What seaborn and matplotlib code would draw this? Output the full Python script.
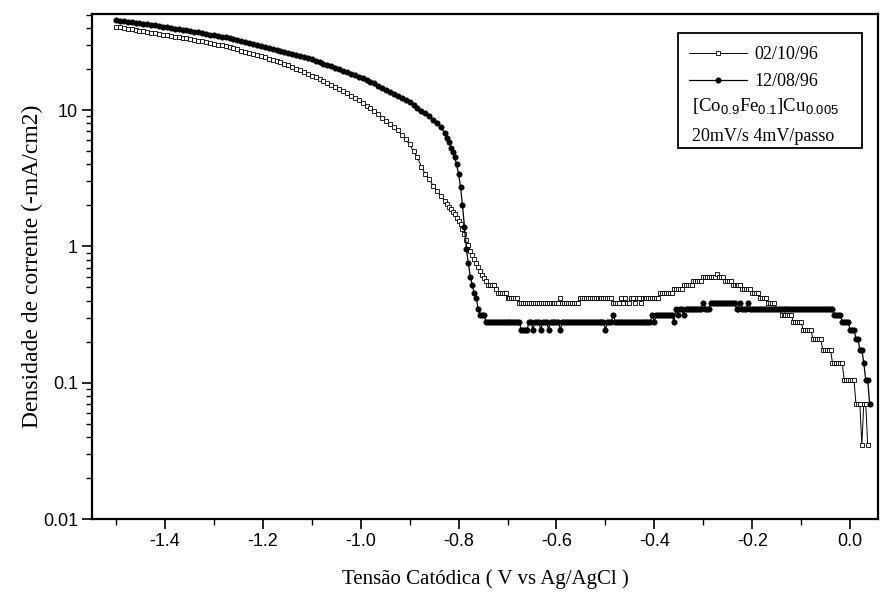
import numpy as np
import pandas as pd
import matplotlib
matplotlib.use("Agg")
import matplotlib.pyplot as plt
import seaborn as sns
from matplotlib.patches import Rectangle
from matplotlib.ticker import LogLocator, MultipleLocator, NullFormatter

# varredura: 20mV/s, 4mV/passo, de -1.5 V
V_START = -1.5
V_STEP = 0.004
Q = 0.035  # resolucao de corrente (mA/cm2)

# 02/10/96 (quadrados): trecho suave, um valor a cada 8 mV
sq_smooth = [41.0, 40.5, 40.0, 39.6, 39.1, 38.6, 38.2, 37.8, 37.4, 37.0,
             36.6, 36.2, 35.9, 35.5, 35.1, 34.7, 34.3, 33.9, 33.6, 33.2,
             32.8, 32.4, 32.0, 31.6, 31.2, 30.8, 30.3, 29.9, 29.4, 28.9,
             28.4, 27.9, 27.4, 26.9, 26.4, 25.9, 25.4, 24.9, 24.4, 23.9,
             23.4, 22.9, 22.4, 21.9, 21.4, 20.8, 20.2, 19.7, 19.1, 18.5,
             17.9, 17.4, 16.8, 16.3, 15.8, 15.3, 14.8, 14.3, 13.8, 13.3,
             12.8, 12.3, 11.8, 11.3, 10.8, 10.3, 9.8, 9.3, 8.8, 8.3,
             7.9, 7.5, 7.1, 6.6, 6.1, 5.6, 5.0, 4.5, 3.85, 3.4,
             3.1, 2.8, 2.55, 2.35, 2.15]
# queda, um valor a cada 4 mV
sq_knee = [2.06, 1.95, 1.88, 1.80, 1.72, 1.63, 1.55, 1.45, 1.35, 1.24, 1.12,
           1.02, 0.93, 0.87, 0.81, 0.76, 0.71, 0.66, 0.62, 0.59, 0.56]
# patamar quantizado: nivel (em unidades de Q) e numero de passos
sq_levels = [15, 14, 13, 12, 11, 12, 11, 12, 11, 12, 11, 12, 11, 12, 11, 12, 11, 12,
             13, 14, 15, 16, 17, 18, 17, 16, 15, 14, 13, 12, 11, 10, 9, 8, 7, 6,
             5, 4, 3, 2, 1, 2, 1]
sq_counts = [4, 1, 5, 6, 21, 1, 9, 17, 4, 1, 1, 1, 2, 2, 1, 2, 1, 9,
             7, 5, 5, 5, 7, 1, 3, 4, 5, 5, 4, 4, 4, 3, 6, 5, 5, 5,
             5, 6, 6, 3, 1, 2, 1]

# 12/08/96 (circulos cheios)
fc_smooth = [45.9, 45.5, 45.1, 44.7, 44.3, 43.9, 43.5, 43.1, 42.7, 42.3,
             41.9, 41.4, 41.0, 40.6, 40.1, 39.7, 39.3, 38.9, 38.5, 38.1,
             37.7, 37.2, 36.8, 36.3, 35.9, 35.4, 35.0, 34.6, 34.2, 33.8,
             33.3, 32.8, 32.3, 31.8, 31.2, 30.7, 30.2, 29.7, 29.3, 28.8,
             28.3, 27.8, 27.3, 26.9, 26.4, 25.9, 25.5, 25.0, 24.6, 24.1,
             23.7, 23.1, 22.6, 22.0, 21.5, 21.0, 20.5, 20.0, 19.5, 19.0,
             18.5, 18.0, 17.6, 17.1, 16.7, 16.2, 15.7, 15.1, 14.6, 14.1,
             13.6, 13.2, 12.7, 12.3, 11.8, 11.4, 10.9, 10.4, 9.9, 9.5,
             9.0, 8.5, 8.0, 7.5, 6.8]
fc_knee = [6.3, 5.85, 5.3, 4.9, 4.5, 4.0, 3.4, 2.75, 2.0, 1.4, 0.96,
           0.75, 0.60, 0.52, 0.455, 0.42, 0.35, 0.315, 0.315, 0.315]
fc_levels = [8, 7, 8, 7, 8, 7, 8, 7, 8, 7, 8, 7, 8, 9, 8, 9, 8, 9, 8, 10,
             9, 10, 9, 10, 11, 10, 11, 10, 11, 10, 11, 10, 9, 8, 7, 6, 5, 4, 3, 2]
fc_counts = [18, 4, 2, 1, 3, 1, 3, 1, 5, 1, 22, 1, 3, 1, 19, 1, 1, 9, 1, 1,
             1, 2, 1, 9, 1, 3, 13, 2, 1, 3, 1, 43, 4, 4, 3, 2, 2, 1, 2, 1]

x_ticks = [-1.4, -1.2, -1.0, -0.8, -0.6, -0.4, -0.2, 0.0]
x_ticklabels = ["-1.4", "-1.2", "-1.0", "-0.8", "-0.6", "-0.4", "-0.2", "0.0"]
y_ticks = [0.01, 0.1, 1, 10]
y_ticklabels = ["0.01", "0.1", "1", "10"]


def build(smooth, knee, levels, counts):
    steps = list(range(0, 2 * len(smooth), 2))
    vals = list(smooth)
    k = steps[-1] + 1
    for v in knee:
        steps.append(k)
        vals.append(v)
        k += 1
    for lev, n in zip(levels, counts):
        for _ in range(n):
            steps.append(k)
            vals.append(lev * Q)
            k += 1
    return pd.DataFrame({"V": V_START + V_STEP * np.array(steps), "I": vals})


df_sq = build(sq_smooth, sq_knee, sq_levels, sq_counts)
df_fc = build(fc_smooth, fc_knee, fc_levels, fc_counts)

sns.set_style("ticks")
plt.rcParams["font.family"] = ["Liberation Sans", "DejaVu Sans"]
plt.rcParams["mathtext.fontset"] = "custom"
plt.rcParams["mathtext.rm"] = "Liberation Sans"
plt.rcParams["mathtext.it"] = "Liberation Sans:italic"
for key in ["text.color", "axes.labelcolor", "xtick.color", "ytick.color", "axes.edgecolor"]:
    plt.rcParams[key] = "black"

fig = plt.figure(figsize=(8.89, 5.95), dpi=100)
ax = fig.add_axes([0.1035, 0.1277, 0.8841, 0.8488])

sns.lineplot(data=df_sq, x="V", y="I", ax=ax, sort=False, estimator=None,
             color="black", linewidth=0.7, marker="s", markersize=3.2,
             markerfacecolor="white", markeredgecolor="black",
             markeredgewidth=0.6)
sns.lineplot(data=df_fc, x="V", y="I", ax=ax, sort=False, estimator=None,
             color="black", linewidth=0.9, marker="o", markersize=3.9,
             markerfacecolor="black", markeredgecolor="black",
             markeredgewidth=0.4)

ax.set_yscale("log")
ax.set_xlim(-1.549, 0.057)
ax.set_ylim(0.01, 50.8)
ax.set_xticks(x_ticks)
ax.set_xticklabels(x_ticklabels)
ax.xaxis.set_minor_locator(MultipleLocator(0.1))
ax.set_yticks(y_ticks)
ax.set_yticklabels(y_ticklabels)
ax.yaxis.set_minor_locator(LogLocator(base=10, subs=np.arange(2, 10)))
ax.yaxis.set_minor_formatter(NullFormatter())

ax.tick_params(which="major", direction="out", length=7, width=1.2,
               labelsize=13, pad=3)
ax.tick_params(which="minor", direction="out", length=4, width=1.0)
for s in ax.spines.values():
    s.set_linewidth(1.6)

ax.set_xlabel("Tensão Catódica ( V vs Ag/AgCl )", fontfamily="Liberation Serif",
              fontsize=15, labelpad=14)
ax.set_ylabel("Densidade de corrente (-mA/cm2)", fontfamily="Liberation Serif",
              fontsize=17, labelpad=0)

# caixa de legenda
leg = ax.legend(handles=ax.lines[:2], labels=["02/10/96", "12/08/96"],
                loc="upper left", bbox_to_anchor=(0.760, 0.936), frameon=False,
                handlelength=3.2, handletextpad=0.4, borderpad=0,
                borderaxespad=0, labelspacing=0.55,
                prop={"family": "Liberation Serif", "size": 13})
ax.text(0.763, 0.818, r"[Co$_{0.9}$Fe$_{0.1}$]Cu$_{0.005}$", transform=ax.transAxes,
        fontsize=13.5, fontfamily="Liberation Serif", va="center", ha="left")
ax.text(0.763, 0.758, "20mV/s 4mV/passo", transform=ax.transAxes,
        fontsize=13, fontfamily="Liberation Serif", va="center", ha="left")
ax.add_patch(Rectangle((0.7455, 0.7347), 0.2341, 0.2277, transform=ax.transAxes,
                       fill=False, edgecolor="black", linewidth=1.3))

fig.savefig("out.png", dpi=100)
